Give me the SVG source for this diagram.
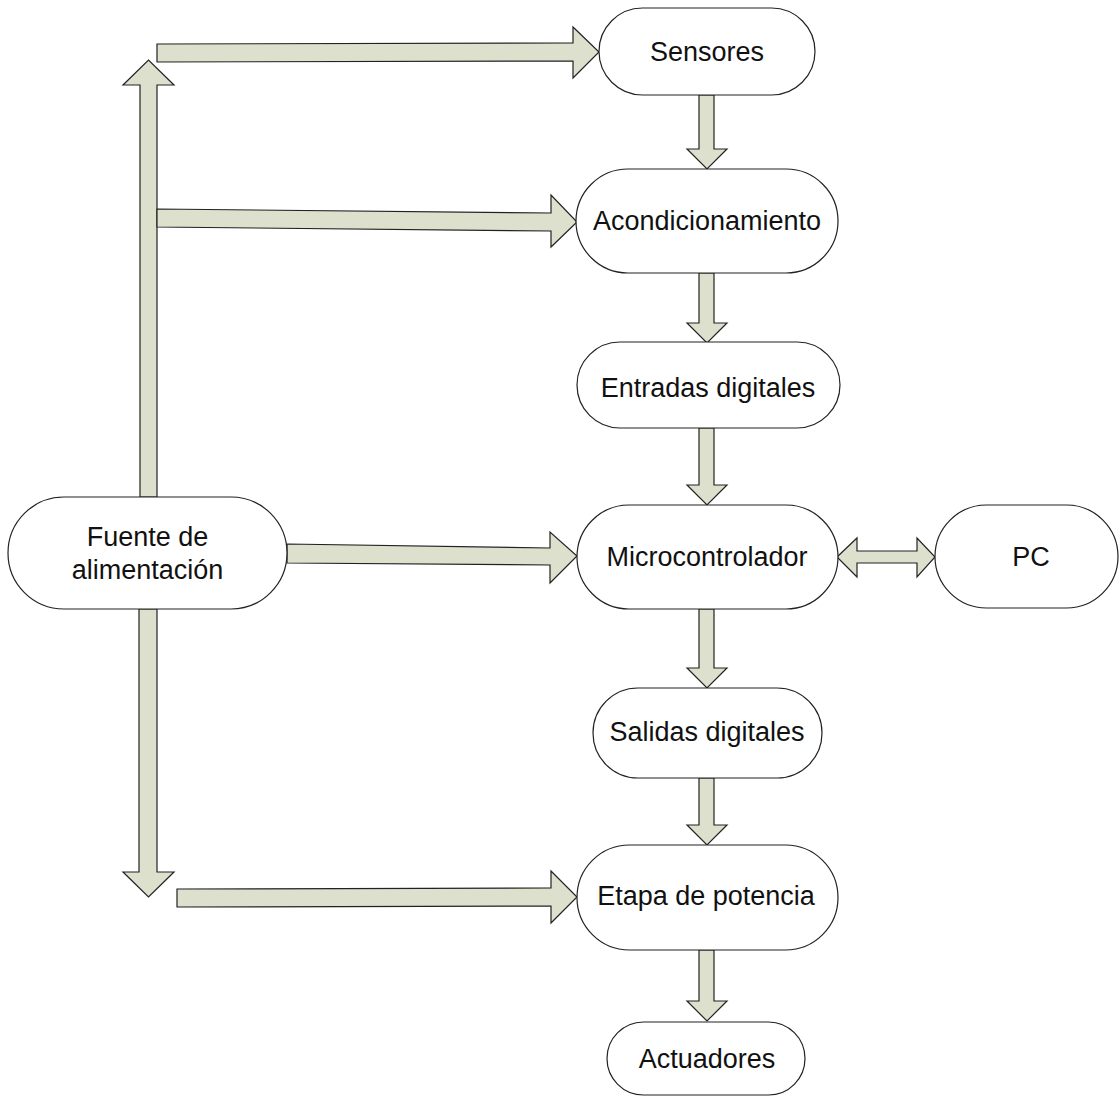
<svg xmlns="http://www.w3.org/2000/svg" width="1120" height="1099" viewBox="0 0 1120 1099">
<style>
.node{fill:#ffffff;stroke:#222;stroke-width:1.2}
.arr{fill:#dde0cd;stroke:#222;stroke-width:1.2;stroke-linejoin:miter}
.lbl{font-family:"Liberation Sans",Arial,sans-serif;font-size:27px;fill:#111;text-anchor:middle}
</style>
<rect width="1120" height="1099" fill="#ffffff"/>
<g id="connectors">
  <polygon class="arr" points="140,497 140,85 123,85 148.5,60 174,85 157,85 157,497"/>
  <polygon class="arr" points="139,609 157,609 157,872 174,872 148.5,897 123,872 139,872"/>
  <polygon class="arr" points="157,44 573,43 573,27 599,52 573,78 573,61 157,62"/>
  <polygon class="arr" points="157,209 551,213 551,195 577,222 551,247 551,231 157,227"/>
  <polygon class="arr" points="287,544 550,548 550,532 577,556 550,583 550,565 287,563"/>
  <polygon class="arr" points="177,889 551,888 551,871 577,897 551,923 551,906 177,907"/>
  <polygon class="arr" points="837,557 857,538 857,551 917,551 917,538 935,557 917,577 917,563 857,563 857,577"/>
  <polygon class="arr" points="699,95 714,95 714,149 727,149 707,169 687,149 699,149"/>
  <polygon class="arr" points="699,273 714,273 714,323 727,323 707,343 687,323 699,323"/>
  <polygon class="arr" points="699,428 714,428 714,485 727,485 707,505 687,485 699,485"/>
  <polygon class="arr" points="699,609 714,609 714,668 727,668 707,688 687,668 699,668"/>
  <polygon class="arr" points="699,778 714,778 714,825 727,825 707,845 687,825 699,825"/>
  <polygon class="arr" points="699,950 714,950 714,1001 727,1001 707,1021 687,1001 699,1001"/>
</g>
<g id="sensores">
  <rect class="node" x="599" y="8" width="216" height="87" rx="43.5" ry="43.5"/>
  <text class="lbl" x="707" y="61">Sensores</text>
</g>
<g id="acondicionamiento">
  <rect class="node" x="576" y="169" width="262" height="104" rx="52" ry="52"/>
  <text class="lbl" x="707" y="230">Acondicionamiento</text>
</g>
<g id="entradas">
  <rect class="node" x="577" y="342" width="263" height="86" rx="43" ry="43"/>
  <text class="lbl" x="708" y="397">Entradas digitales</text>
</g>
<g id="microcontrolador">
  <rect class="node" x="577" y="505" width="261" height="104" rx="52" ry="52"/>
  <text class="lbl" x="707" y="566">Microcontrolador</text>
</g>
<g id="pc">
  <rect class="node" x="935" y="505" width="183" height="103" rx="51.5" ry="51.5"/>
  <text class="lbl" x="1031" y="566">PC</text>
</g>
<g id="salidas">
  <rect class="node" x="593" y="688" width="229" height="90" rx="45" ry="45"/>
  <text class="lbl" x="707" y="741">Salidas digitales</text>
</g>
<g id="etapa">
  <rect class="node" x="577" y="845" width="261" height="105" rx="52.5" ry="52.5"/>
  <text class="lbl" x="706" y="905">Etapa de potencia</text>
</g>
<g id="actuadores">
  <rect class="node" x="607" y="1022" width="198" height="73" rx="36.5" ry="36.5"/>
  <text class="lbl" x="707" y="1068">Actuadores</text>
</g>
<g id="fuente">
  <rect class="node" x="8" y="497" width="279" height="112" rx="56" ry="56"/>
  <text class="lbl" x="147.5" y="546">Fuente de</text>
  <text class="lbl" x="147.5" y="579">alimentación</text>
</g>
</svg>
